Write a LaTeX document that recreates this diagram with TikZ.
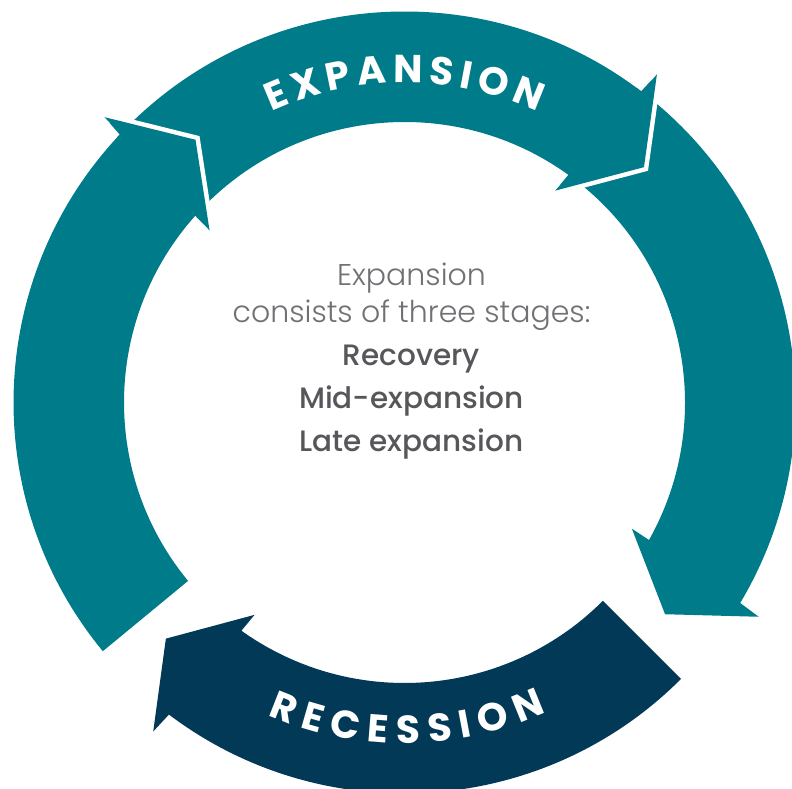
\documentclass[tikz,border=0pt]{standalone}
\usepackage{fontspec}
\setmainfont{Poppins}
\newfontfamily\lightfont{Poppins Light}
\newfontfamily\medfont{Poppins Medium}
\usetikzlibrary{decorations.text}

\definecolor{cycleteal}{RGB}{0,123,138}
\definecolor{cyclenavy}{RGB}{2,57,86}
\definecolor{softgray}{RGB}{112,113,116}
\definecolor{stagegray}{RGB}{86,87,90}

% ring geometry (1 unit = 1pt)
\def\Ri{280.5}   % inner radius of the ring
\def\Ro{391}     % outer radius of the ring
\def\Rm{335.75}  % middle of the ring, where the tips sit
\def\Rbi{260}    % inner barb radius
\def\Rbo{414}    % outer barb radius

% angles of a head whose base sits at angle #1
\newcommand\headangles[1]{%
  \pgfmathsetmacro\arOutN{#1-0.75}%
  \pgfmathsetmacro\arOutB{#1-1.07}%
  \pgfmathsetmacro\arTip{#1-9}%
  \pgfmathsetmacro\arInB{#1+1.07}%
  \pgfmathsetmacro\arInN{#1+0.75}}

% clockwise arrow: #1 colour, #2 tail angle, #3 head base angle (smaller than #2)
\newcommand\ringarrow[3]{%
  \headangles{#3}%
  \fill[#1] (#2:\Ro) arc[start angle=#2, end angle=\arOutN, radius=\Ro]
    -- (\arOutB:\Rbo) -- (\arTip:\Rm) -- (\arInB:\Rbi) -- (\arInN:\Ri)
    arc[start angle=\arInN, end angle=#2, radius=\Ri] -- cycle;}

% white gap around a head that points into the next arrow's tail
\newcommand\headgap[2]{%
  \headangles{#2}%
  \draw[white, line width=9, line join=miter]
    (\arInB:\Rbi) -- (\arTip:\Rm) -- (\arOutB:\Rbo);
  \fill[#1] (\arInB:\Rbi) -- (\arTip:\Rm) -- (\arOutB:\Rbo) -- cycle;}

\tikzset{
  lighttext/.style={text=softgray, font=\lightfont\fontsize{30}{34}\selectfont, inner sep=0},
  stagetext/.style={text=stagegray, font=\medfont\fontsize{29.5}{34}\selectfont, inner sep=0},
  ringlabel/.style={decorate, decoration={text along path,
      text align={fit to path}, text={|\bfseries\fontsize{39}{39}\selectfont\color{white}|#1}}}
}

\begin{document}
\begin{tikzpicture}[x=1pt, y=1pt]
  \clip (0,0) rectangle (792,789);
  \fill[white] (0,0) rectangle (792,789);

  \begin{scope}[shift={(404.5,386.5)}]
    % the four arrows of the cycle
    \ringarrow{cycleteal}{219.5}{137.5}
    \ringarrow{cycleteal}{137.5}{53.5}
    \ringarrow{cycleteal}{53.5}{-30.1}
    \ringarrow{cyclenavy}{315}{233.7}
    % heads that run into the following arrow
    \headgap{cycleteal}{137.5}
    \headgap{cycleteal}{53.5}

    % curved ring labels
    \path[ringlabel=EXPANSION] (114.6:319.5) arc[start angle=114.6, end angle=65.4, radius=319.5];
    \path[ringlabel=RECESSION] (246.4:341) arc[start angle=246.4, end angle=294.6, radius=341];
  \end{scope}

  % centre text
  \node[lighttext, anchor=base] (intro) at (411.5,503) {Expansion};
  \node[lighttext, anchor=base] (stages) at (411.5,466) {consists of three stages:};
  \node[stagetext, anchor=base] (recovery) at (411.5,423) {Recovery};
  \node[stagetext, anchor=base] (midexp) at (411.5,380) {Mid-expansion};
  \node[stagetext, anchor=base] (lateexp) at (411.5,337) {Late expansion};
\end{tikzpicture}
\end{document}
